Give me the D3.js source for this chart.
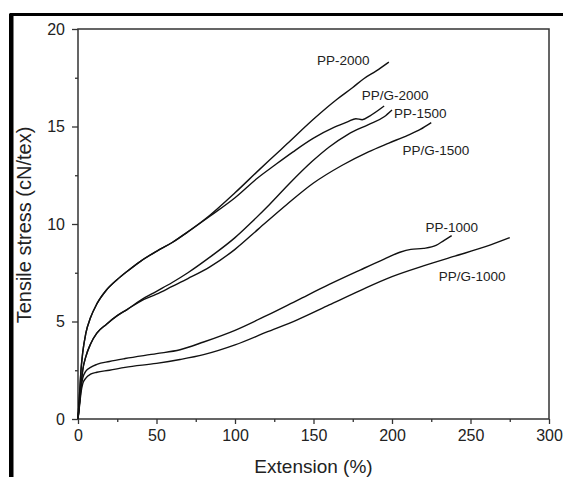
<!DOCTYPE html>
<html><head><meta charset="utf-8">
<script src="https://cdn.jsdelivr.net/npm/d3@7"></script>
<style>html,body{margin:0;padding:0;background:#fff;}svg{display:block;}</style>
</head><body>
<svg id="c" width="563" height="477"></svg>
<script>
// ---- data (Extension %, Tensile stress cN/tex) ----
const pp2000X  = [0,1,2,3,5,8,12,18,25,31,40,50,60,70,84,100,115,125,133,151,165,175,182,190,198];
const pp2000Y  = [0,1.3,2.6,3.4,4.4,5.2,5.9,6.6,7.15,7.55,8.1,8.6,9.05,9.6,10.45,11.6,12.75,13.5,14.1,15.45,16.4,17.0,17.45,17.85,18.3];
const ppg2000X = [0,1,2,3,5,8,12,18,25,31,40,50,60,70,84,100,115,125,137,150,163,172,177,181,186,195];
const ppg2000Y = [0,1.3,2.6,3.4,4.4,5.2,5.9,6.6,7.15,7.55,8.1,8.6,9.05,9.6,10.4,11.35,12.4,13.0,13.7,14.4,14.95,15.25,15.4,15.35,15.55,16.05];
const pp1500X  = [0,1,2,3,5,8,12,18,25,31,40,50,60,70,84,100,110,122,135,149,160,172,185,195,200];
const pp1500Y  = [0,0.9,1.8,2.5,3.2,3.85,4.4,4.85,5.3,5.6,6.1,6.55,7.0,7.5,8.3,9.3,10.05,11.0,12.1,13.2,13.95,14.6,15.1,15.5,15.85];
const ppg1500X = [0,1,2,3,5,8,12,18,25,31,40,50,60,70,84,100,115,133,150,168,185,198,210,218,225];
const ppg1500Y = [0,0.9,1.8,2.5,3.2,3.85,4.4,4.85,5.3,5.6,6.05,6.4,6.8,7.2,7.8,8.7,9.75,11.0,12.1,13.0,13.7,14.15,14.55,14.85,15.2];
const pp1000X  = [0,1,2,3,5,8,12,20,30,50,65,80,100,120,140,160,180,195,205,212,220,228,233,238];
const pp1000Y  = [0,0.8,1.6,2.1,2.45,2.65,2.8,2.95,3.1,3.35,3.55,3.95,4.55,5.3,6.1,6.9,7.65,8.2,8.55,8.7,8.75,8.9,9.15,9.4];
const ppg1000X = [0,1,2,3,5,8,12,20,30,50,65,80,100,120,140,160,180,200,220,240,260,275];
const ppg1000Y = [0,0.7,1.4,1.8,2.1,2.3,2.4,2.5,2.65,2.85,3.05,3.3,3.8,4.45,5.1,5.85,6.6,7.3,7.85,8.35,8.85,9.3];

const seriesNames = ["PP-2000","PP/G-2000","PP-1500","PP/G-1500","PP-1000","PP/G-1000"];
const seriesX = [pp2000X, ppg2000X, pp1500X, ppg1500X, pp1000X, ppg1000X];
const seriesY = [pp2000Y, ppg2000Y, pp1500Y, ppg1500Y, pp1000Y, ppg1000Y];
// label anchor positions (data coords, text centre)
const labelX = [169, 202, 218, 228, 238, 251];
const labelY = [18.4, 16.6, 15.7, 13.8, 9.85, 7.3];

const xTicks = [0,50,100,150,200,250,300];
const yTicks = [0,5,10,15,20];
const xMinor = [25,75,125,175,225,275];
const yMinor = [2.5,7.5,12.5,17.5];

// ---- layout ----
const svg = d3.select("#c");
const L = 78, R = 549, T = 29, B = 419;
const x = d3.scaleLinear().domain([0,300]).range([L,R]);
const y = d3.scaleLinear().domain([0,20]).range([B,T]);
const font = "'Liberation Sans', Arial, Helvetica, sans-serif";

// outer frame
svg.append("path").attr("d", `M11,480 L11,14.5 L570,14.5`).attr("fill","none")
  .attr("stroke","#000").attr("stroke-width",3);
svg.append("rect").attr("x",9).attr("y",14).attr("width",4.5).attr("height",470).attr("fill","#000");

const axCol = "#333";
// plot box
svg.append("rect").attr("x",L).attr("y",T).attr("width",R-L).attr("height",B-T)
  .attr("fill","none").attr("stroke",axCol).attr("stroke-width",1.5);

// x axis
const gx = svg.append("g").attr("transform",`translate(0,${B})`)
  .call(d3.axisBottom(x).tickValues(xTicks).tickSize(5).tickPadding(6).tickFormat(d3.format("d")));
gx.select(".domain").remove();
gx.selectAll("line").attr("stroke",axCol).attr("stroke-width",1.3);
gx.selectAll("text").attr("font-family",font).attr("font-size",16).attr("fill","#222");
const gxm = svg.append("g").attr("transform",`translate(0,${B})`)
  .call(d3.axisBottom(x).tickValues(xMinor).tickSize(3).tickFormat(""));
gxm.select(".domain").remove();
gxm.selectAll("line").attr("stroke",axCol).attr("stroke-width",1.3);

// y axis
const gy = svg.append("g").attr("transform",`translate(${L},0)`)
  .call(d3.axisLeft(y).tickValues(yTicks).tickSize(6).tickPadding(7).tickFormat(d3.format("d")));
gy.select(".domain").remove();
gy.selectAll("line").attr("stroke",axCol).attr("stroke-width",1.3);
gy.selectAll("text").attr("font-family",font).attr("font-size",16).attr("fill","#222");
const gym = svg.append("g").attr("transform",`translate(${L},0)`)
  .call(d3.axisLeft(y).tickValues(yMinor).tickSize(3).tickFormat(""));
gym.select(".domain").remove();
gym.selectAll("line").attr("stroke",axCol).attr("stroke-width",1.3);

// axis titles
svg.append("text").attr("x",(L+R)/2).attr("y",473).attr("text-anchor","middle")
  .attr("font-family",font).attr("font-size",19).attr("fill","#222").text("Extension (%)");
svg.append("text").attr("transform",`translate(31,225) rotate(-90)`).attr("text-anchor","middle")
  .attr("font-family",font).attr("font-size",20).attr("fill","#222").text("Tensile stress (cN/tex)");

// curves
const line = d3.line().x(d=>x(d[0])).y(d=>y(d[1])).curve(d3.curveMonotoneX);
seriesNames.forEach((name,i)=>{
  const pts = seriesX[i].map((v,j)=>[v, seriesY[i][j]]);
  svg.append("path").datum(pts).attr("d",line).attr("fill","none")
    .attr("stroke","#111").attr("stroke-width",1.4);
  svg.append("text").attr("x",x(labelX[i])).attr("y",y(labelY[i])).attr("dy","0.35em")
    .attr("text-anchor","middle").attr("font-family",font).attr("font-size",13.5)
    .attr("fill","#222").text(name);
});
</script>
</body></html>
